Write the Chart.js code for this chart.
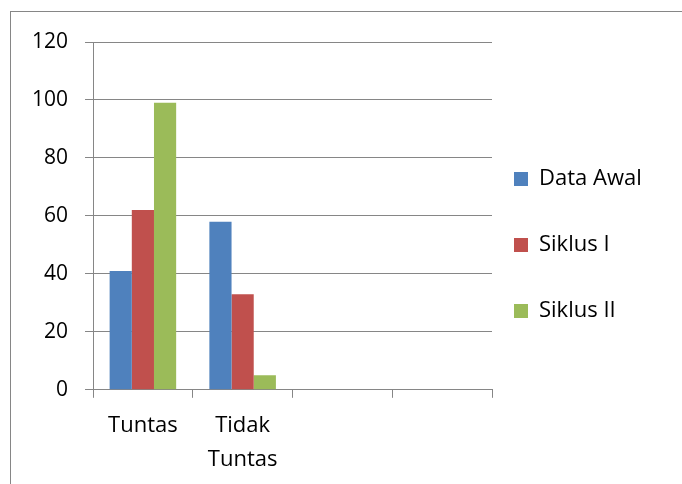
<!DOCTYPE html>
<html><head><meta charset="utf-8">
<script src="https://cdn.jsdelivr.net/npm/chart.js@4"></script>
<style>
html,body{margin:0;padding:0;background:#fff;overflow:hidden;width:682px;height:484px;}
#frame{position:absolute;left:10px;top:11px;width:720px;height:520px;border:1px solid #868686;box-sizing:border-box;}
#wrap{position:absolute;left:0;top:0;width:682px;height:484px;}
</style></head><body>
<div id="frame"></div>
<div id="wrap"><canvas id="c" width="682" height="484"></canvas></div>
<script>
const categories = ['Tuntas', ['Tidak', 'Tuntas'], '', ''];
const seriesNames = ['Data Awal', 'Siklus I', 'Siklus II'];
const dataAwal = [41, 58, null, null];
const siklus1 = [62, 33, null, null];
const siklus2 = [99, 5, null, null];
const seriesColors = ['#4F81BD', '#C0504D', '#9BBB59'];
const yMin = 0, yMax = 120, yStep = 20;

const seriesValues = [dataAwal, siklus1, siklus2];
const gridColor = '#868686';

const legendNudge = {
  id: 'legendNudge',
  afterLayout(chart) {
    const l = chart.legend;
    if (!l) return;
    l.left -= 22;
    l.top -= 20; l.bottom -= 20;
  }
};

new Chart(document.getElementById('c'), {
  type: 'bar',
  data: {
    labels: categories,
    datasets: seriesNames.map((name, i) => ({
      label: name,
      data: seriesValues[i],
      backgroundColor: seriesColors[i],
      borderWidth: 0,
      categoryPercentage: 0.667,
      barPercentage: 1.0
    }))
  },
  options: {
    responsive: false,
    animation: false,
    layout: { padding: { left: 15, top: 42, right: 31, bottom: -4 } },
    plugins: {
      tooltip: { enabled: false },
      legend: {
        position: 'right',
        align: 'center',
        labels: {
          boxWidth: 14,
          boxHeight: 14,
          padding: 44,
          color: '#000',
          font: { family: 'Open Sans', size: 22 }
        }
      }
    },
    scales: {
      x: {
        grid: { display: true, offset: true, drawOnChartArea: false, drawTicks: true, tickLength: 8, color: gridColor, lineWidth: 1 },
        border: { display: true, color: gridColor, width: 1 },
        ticks: { color: '#000', padding: 11, maxRotation: 0, autoSkip: false, font: { family: 'Open Sans', size: 22, lineHeight: 1.55 } }
      },
      y: {
        min: yMin, max: yMax,
        grid: { color: gridColor, lineWidth: 1, drawTicks: true, tickLength: 8 },
        border: { display: true, color: gridColor, width: 1 },
        ticks: { stepSize: yStep, color: '#000', padding: 17, font: { family: 'Open Sans', size: 21 } }
      }
    }
  },
  plugins: [legendNudge]
});
</script>
</body></html>
